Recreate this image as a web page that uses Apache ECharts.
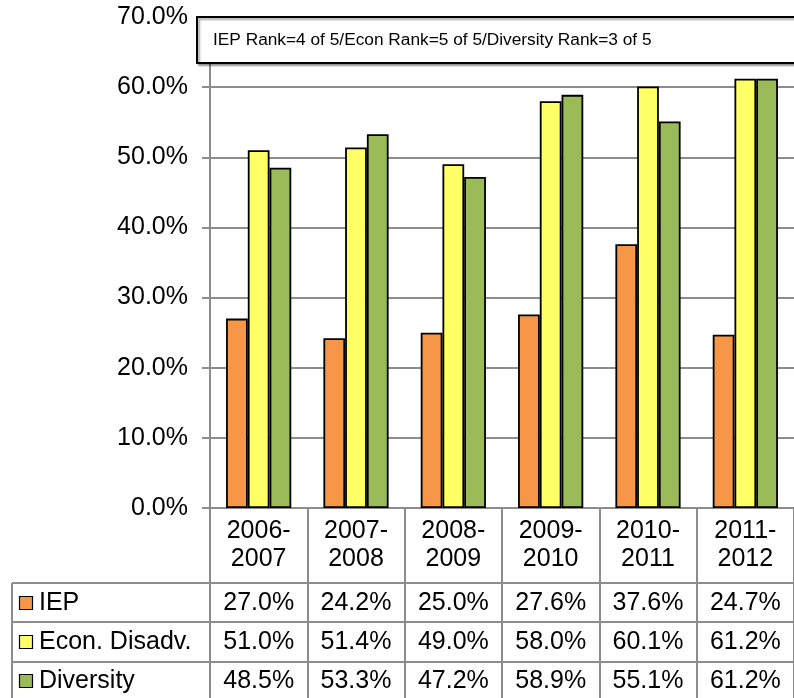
<!DOCTYPE html>
<html><head><meta charset="utf-8">
<script src="https://cdn.jsdelivr.net/npm/echarts@6/dist/echarts.min.js"></script>
<style>html,body{margin:0;padding:0;background:#fff}#c{width:794px;height:698px}</style>
</head><body><div id="c"></div>
<script>
const categories = ['2006-2007','2007-2008','2008-2009','2009-2010','2010-2011','2011-2012'];
const seriesNames = ['IEP','Econ. Disadv.','Diversity'];
const iep = [27.0,24.2,25.0,27.6,37.6,24.7];
const econ = [51.0,51.4,49.0,58.0,60.1,61.2];
const diversity = [48.5,53.3,47.2,58.9,55.1,61.2];
const seriesColors = ['#F79646','#FFFF66','#9BBB59'];
const yMin = 0, yMax = 70, yStep = 10;
const titleText = 'IEP Rank=4 of 5/Econ Rank=5 of 5/Diversity Rank=3 of 5';

const FONT = "'Liberation Sans', Arial, sans-serif";
const GRAY = '#8c8c8c';
const allData = [iep, econ, diversity];

const chart = echarts.init(document.getElementById('c'), null, {renderer:'canvas'});
chart.setOption({
  animation: false,
  textStyle: {fontFamily: FONT},
  grid: {left: 210, right: -2, top: 17, bottom: 190, containLabel: false},
  xAxis: {
    type: 'category', data: categories,
    axisLine: {show: true, lineStyle: {color: GRAY, width: 2}},
    axisTick: {show: true, interval: 0, length: 190, lineStyle: {color: GRAY, width: 2}},
    axisLabel: {
      interval: 0, margin: 9, color: '#000', fontSize: 25, lineHeight: 28, fontFamily: FONT,
      formatter: v => v.replace('-', '-\n')
    },
    splitLine: {show: false}
  },
  yAxis: {
    type: 'value', min: yMin, max: yMax, interval: yStep,
    axisLine: {show: true, lineStyle: {color: GRAY, width: 2}},
    axisTick: {show: true, length: 8, lineStyle: {color: GRAY, width: 2}},
    axisLabel: {color: '#000', fontSize: 25, margin: 22, fontFamily: FONT, formatter: v => v.toFixed(1) + '%'},
    splitLine: {show: true, lineStyle: {color: GRAY, width: 2}}
  },
  series: seriesNames.map((n, i) => ({
    name: n, type: 'bar', data: allData[i],
    barGap: '0%', barCategoryGap: '33%',
    itemStyle: {color: seriesColors[i], borderColor: '#000', borderWidth: 1.8}
  }))
});

// Data table + title box
const rowCenters = [603, 642, 681];
const rowLines = [583, 622, 662];
const gfx = [];
const lineStyle = {stroke: GRAY, lineWidth: 2};
rowLines.forEach(y => gfx.push({type: 'line', z: 10, shape: {x1: 12, y1: y, x2: 800, y2: y}, style: lineStyle}));
gfx.push({type: 'line', z: 10, shape: {x1: 12, y1: 583, x2: 12, y2: 700}, style: lineStyle});
seriesNames.forEach((n, r) => {
  const cy = rowCenters[r];
  gfx.push({type: 'rect', z: 11, shape: {x: 19.5, y: cy - 6.5, width: 13, height: 13},
    style: {fill: seriesColors[r], stroke: '#000', lineWidth: 1.2}});
  gfx.push({type: 'text', z: 11, x: 39, y: cy, style: {text: n, fill: '#000', font: '25px ' + FONT,
    textAlign: 'left', textVerticalAlign: 'middle'}});
  allData[r].forEach((v, c) => {
    const px = chart.convertToPixel({xAxisIndex: 0}, c);
    gfx.push({type: 'text', z: 11, x: px, y: cy, style: {text: v.toFixed(1) + '%', fill: '#000',
      font: '25px ' + FONT, textAlign: 'center', textVerticalAlign: 'middle'}});
  });
});
const topY = chart.convertToPixel({yAxisIndex: 0}, yMax);
gfx.push({type: 'rect', z: 20, shape: {x: 197, y: topY, width: 610, height: 46},
  style: {fill: '#fff', stroke: '#000', lineWidth: 2, shadowColor: 'rgba(0,0,0,0.35)', shadowOffsetX: 2, shadowOffsetY: 2, shadowBlur: 2}});
gfx.push({type: 'text', z: 21, x: 213, y: topY + 23, style: {text: titleText, fill: '#000',
  font: '17.3px ' + FONT, textAlign: 'left', textVerticalAlign: 'middle'}});
chart.setOption({graphic: gfx});
</script>
</body></html>
